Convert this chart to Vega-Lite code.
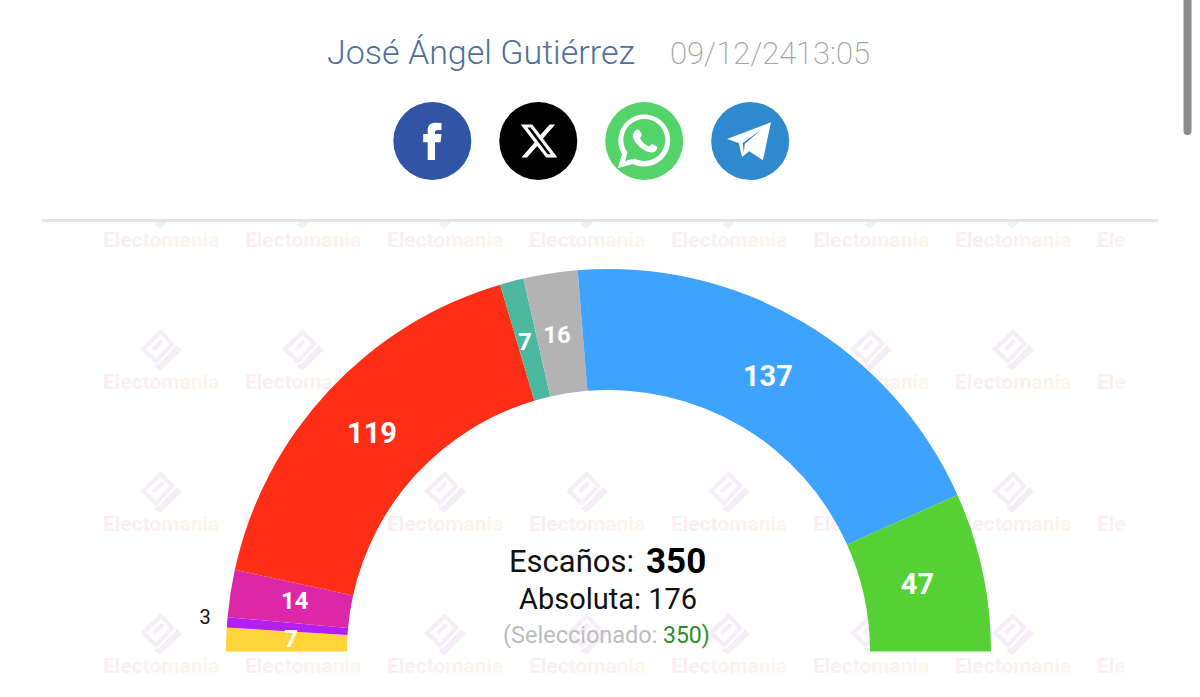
{
"$schema":"https://vega.github.io/schema/vega-lite/v6.json",
"width":1200,"height":697,"padding":0,"autosize":{"type":"none"},
"background":"#ffffff",
"config":{"view":{"stroke":null},"font":"Roboto"},
"datasets":{
"seats":[
{"party":"Partido 1","seats":7,"order":1},
{"party":"Partido 2","seats":3,"order":2},
{"party":"Partido 3","seats":14,"order":3},
{"party":"Partido 4","seats":119,"order":4},
{"party":"Partido 5","seats":7,"order":5},
{"party":"Partido 6","seats":16,"order":6},
{"party":"Partido 7","seats":137,"order":7},
{"party":"Partido 8","seats":47,"order":8}],
"wordmarks":[
{"col":0,"row":0,"word":"Electomania"},{"col":1,"row":0,"word":"Electomania"},{"col":2,"row":0,"word":"Electomania"},{"col":3,"row":0,"word":"Electomania"},{"col":4,"row":0,"word":"Electomania"},{"col":5,"row":0,"word":"Electomania"},{"col":6,"row":0,"word":"Electomania"},{"col":7,"row":0,"word":"Ele"},
{"col":0,"row":1,"word":"Electomania"},{"col":1,"row":1,"word":"Electomania"},{"col":2,"row":1,"word":"Electomania"},{"col":3,"row":1,"word":"Electomania"},{"col":4,"row":1,"word":"Electomania"},{"col":5,"row":1,"word":"Electomania"},{"col":6,"row":1,"word":"Electomania"},{"col":7,"row":1,"word":"Ele"},
{"col":0,"row":2,"word":"Electomania"},{"col":1,"row":2,"word":"Electomania"},{"col":2,"row":2,"word":"Electomania"},{"col":3,"row":2,"word":"Electomania"},{"col":4,"row":2,"word":"Electomania"},{"col":5,"row":2,"word":"Electomania"},{"col":6,"row":2,"word":"Electomania"},{"col":7,"row":2,"word":"Ele"},
{"col":0,"row":3,"word":"Electomania"},{"col":1,"row":3,"word":"Electomania"},{"col":2,"row":3,"word":"Electomania"},{"col":3,"row":3,"word":"Electomania"},{"col":4,"row":3,"word":"Electomania"},{"col":5,"row":3,"word":"Electomania"},{"col":6,"row":3,"word":"Electomania"},{"col":7,"row":3,"word":"Ele"}],
"logos":[
{"col":0,"row":0},{"col":1,"row":0},{"col":2,"row":0},{"col":3,"row":0},{"col":4,"row":0},{"col":5,"row":0},{"col":6,"row":0},
{"col":0,"row":1},{"col":1,"row":1},{"col":2,"row":1},{"col":3,"row":1},{"col":4,"row":1},{"col":5,"row":1},{"col":6,"row":1},
{"col":0,"row":2},{"col":1,"row":2},{"col":2,"row":2},{"col":3,"row":2},{"col":4,"row":2},{"col":5,"row":2},{"col":6,"row":2},
{"col":0,"row":3},{"col":1,"row":3},{"col":2,"row":3},{"col":3,"row":3},{"col":4,"row":3},{"col":5,"row":3},{"col":6,"row":3}],
"icons":[{"net":"Facebook","pos":0},{"net":"X","pos":1},{"net":"WhatsApp","pos":2},{"net":"Telegram","pos":3}]
},
"resolve":{"scale":{"x":"independent","y":"independent","color":"independent","theta":"independent"}},
"layer":[
{"data":{"name":"wordmarks"},
 "mark":{"type":"text","align":"left","baseline":"middle","font":"Roboto","fontWeight":700,"fontSize":21,"fill":{"gradient":"linear","x1":0,"y1":0,"x2":1,"y2":0,"stops":[{"offset":0,"color":"#fbedf3"},{"offset":0.6,"color":"#fcf0f0"},{"offset":1,"color":"#fef5ea"}]}},
 "encoding":{
  "x":{"field":"col","type":"quantitative","scale":{"domain":[-0.7254,7.7254],"range":[0,1200]},"axis":null},
  "y":{"field":"row","type":"quantitative","scale":{"domain":[-1.6972,3.2113],"range":[0,697]},"axis":null},
  "text":{"field":"word"}}},
{"data":{"name":"logos"},
 "mark":{"type":"point","filled":true,"opacity":1,"size":4,"color":"#f5edf7","shape":"M0 -21 L14 -6 L-5 14 L-21 -1 Z M0 -15 L-15 -1 L-5 8.5 L8.5 -6 Z M0 -11 L3 -8 L-6 1 L-9 -2 Z M-1 13 L16 -5 L21 0 L-1 21 L-7 16 Z"},
 "encoding":{
  "x":{"field":"col","type":"quantitative","scale":{"domain":[-1.1338,7.3169],"range":[0,1200]},"axis":null},
  "y":{"field":"row","type":"quantitative","scale":{"domain":[-1.4648,3.4437],"range":[0,697]},"axis":null}}},
{"mark":{"type":"rect","color":"#ffffff"},"data":{"values":[{}]},
 "encoding":{
  "x":{"datum":0,"type":"quantitative","scale":{"domain":[0,1200]},"axis":null},"x2":{"datum":1200},
  "y":{"datum":0,"type":"quantitative","scale":{"domain":[0,697],"range":[0,697]},"axis":null},"y2":{"datum":220}}},
{"mark":{"type":"rule","color":"#e6e4e4","strokeWidth":3},"data":{"values":[{}]},
 "encoding":{
  "x":{"datum":42,"type":"quantitative","scale":{"domain":[0,1200]},"axis":null},"x2":{"datum":1158},
  "y":{"datum":220.5,"type":"quantitative","scale":{"domain":[0,697],"range":[0,697]},"axis":null}}},
{"mark":{"type":"rule","color":"#8a8a8a","strokeWidth":8,"strokeCap":"round"},"data":{"values":[{}]},
 "encoding":{
  "x":{"datum":1187.5,"type":"quantitative","scale":{"domain":[0,1200]},"axis":null},
  "y":{"datum":0,"type":"quantitative","scale":{"domain":[0,697],"range":[0,697]},"axis":null},"y2":{"datum":131}}},
{"mark":{"type":"text","text":"José Ángel Gutiérrez","align":"left","baseline":"alphabetic","font":"Roboto","fontWeight":300,"fontSize":34,"color":"#4f7199"},"data":{"values":[{}]},
 "encoding":{
  "x":{"datum":327,"type":"quantitative","scale":{"domain":[0,1200]},"axis":null},
  "y":{"datum":64,"type":"quantitative","scale":{"domain":[0,697],"range":[0,697]},"axis":null}}},
{"mark":{"type":"text","text":"09/12/24","align":"left","baseline":"alphabetic","font":"Roboto","fontWeight":200,"fontSize":31,"color":"#a3a3a3"},"data":{"values":[{}]},
 "encoding":{
  "x":{"datum":670,"type":"quantitative","scale":{"domain":[0,1200]},"axis":null},
  "y":{"datum":64,"type":"quantitative","scale":{"domain":[0,697],"range":[0,697]},"axis":null}}},
{"mark":{"type":"text","text":"13:05","align":"left","baseline":"alphabetic","font":"Roboto","fontWeight":200,"fontSize":31,"color":"#a3a3a3"},"data":{"values":[{}]},
 "encoding":{
  "x":{"datum":796,"type":"quantitative","scale":{"domain":[0,1200]},"axis":null},
  "y":{"datum":64,"type":"quantitative","scale":{"domain":[0,697],"range":[0,697]},"axis":null}}},
{"data":{"name":"icons"},
 "mark":{"type":"point","filled":true,"opacity":1,"size":6084,"shape":"circle"},
 "encoding":{
  "x":{"field":"pos","type":"quantitative","scale":{"domain":[-4.0802,7.2453],"range":[0,1200]},"axis":null},
  "y":{"datum":141,"type":"quantitative","scale":{"domain":[0,697],"range":[0,697]},"axis":null},
  "color":{"field":"net","type":"nominal","scale":{"domain":["Facebook","X","WhatsApp","Telegram"],"range":["#3155a4","#000000","#55d36b","#2f89ce"]},"legend":null}}},
{"mark":{"type":"point","filled":true,"opacity":1,"size":4,"color":"#ffffff","shape":"M-4.8 19 L-4.8 1.3 L-9.3 1.3 L-9.3 -7 L-4.8 -7 L-4.8 -11 C-4.8 -16 -1.5 -18.3 3 -18.3 L9 -18 L9 -11 L5 -11 C3.2 -11 2.5 -10 2.5 -8.5 L2.5 -7 L9 -7 L8 1.3 L2.5 1.3 L2.5 19 Z"},"data":{"values":[{}]},
 "encoding":{
  "x":{"datum":432.5,"type":"quantitative","scale":{"domain":[0,1200]},"axis":null},
  "y":{"datum":141,"type":"quantitative","scale":{"domain":[0,697],"range":[0,697]},"axis":null}}},
{"mark":{"type":"point","filled":true,"opacity":1,"size":11.56,"color":"#ffffff","shape":"M6.244 -9.75 L9.552 -9.75 L2.325 -1.49 L10.827 9.75 L4.17 9.75 L-1.044 2.933 L-7.01 9.75 L-10.32 9.75 L-2.59 0.915 L-10.746 -9.75 L-3.92 -9.75 L0.793 -3.519 Z M5.083 7.77 L6.916 7.77 L-4.916 -7.874 L-6.883 -7.874 Z"},"data":{"values":[{}]},
 "encoding":{
  "x":{"datum":539,"type":"quantitative","scale":{"domain":[0,1200]},"axis":null},
  "y":{"datum":141,"type":"quantitative","scale":{"domain":[0,697],"range":[0,697]},"axis":null}}},
{"mark":{"type":"point","filled":true,"opacity":1,"size":4,"color":"#ffffff","shape":"M-27 27 L-23 13 A26 26 0 1 1 -12 23 Z M-20 20 L-10.5 17.5 A21 21 0 1 0 -17.5 11.5 Z M-11 -9 C-9 -12 -7 -12 -5.5 -11 L-3 -6 L-5 -3 C-3 1 0 4 4 5.5 L7 3 L12 5.5 C13 8 11 11 7 11.5 C-2 11.5 -13 0 -12 -6 Z"},"data":{"values":[{}]},
 "encoding":{
  "x":{"datum":645,"type":"quantitative","scale":{"domain":[0,1200]},"axis":null},
  "y":{"datum":141,"type":"quantitative","scale":{"domain":[0,697],"range":[0,697]},"axis":null}}},
{"mark":{"type":"point","filled":true,"opacity":1,"size":4,"color":"#ffffff","shape":"M20 -18.7 L11.9 19.3 L-1.7 10.3 L-9 16 L-12.3 2 L-24 -2 Z M11 -12 L-8.3 2 L-7.3 12 L-6.3 3 Z"},"data":{"values":[{}]},
 "encoding":{
  "x":{"datum":751,"type":"quantitative","scale":{"domain":[0,1200]},"axis":null},
  "y":{"datum":141,"type":"quantitative","scale":{"domain":[0,697],"range":[0,697]},"axis":null}}},
{"data":{"name":"seats"},
 "mark":{"type":"arc","radius":382.5,"radius2":261.5},
 "encoding":{
  "x":{"datum":608.5,"type":"quantitative","scale":{"domain":[0,1200]},"axis":null},
  "y":{"datum":651.5,"type":"quantitative","scale":{"domain":[0,697],"range":[0,697]},"axis":null},
  "theta":{"field":"seats","type":"quantitative","stack":true,"scale":{"domain":[0,350],"range":[-1.5708,1.5708]}},
  "order":{"field":"order"},
  "color":{"field":"party","type":"nominal","scale":{"domain":["Partido 1","Partido 2","Partido 3","Partido 4","Partido 5","Partido 6","Partido 7","Partido 8"],"range":["#ffd43b","#b31ff0","#dc28a8","#ff2e17","#4db8a0","#b3b3b3","#3ea2ff","#55d136"]},"legend":null}}},
{"data":{"name":"seats"},
 "mark":{"type":"text","radius":319,"font":"Roboto","fontWeight":700,"color":"#ffffff","align":"center","baseline":"middle"},
 "encoding":{
  "x":{"datum":605.5,"type":"quantitative","scale":{"domain":[0,1200]},"axis":null},
  "y":{"datum":651.5,"type":"quantitative","scale":{"domain":[0,697],"range":[0,697]},"axis":null},
  "theta":{"field":"seats","type":"quantitative","stack":true,"scale":{"domain":[0,350],"range":[-1.5708,1.5708]}},
  "order":{"field":"order"},
  "size":{"condition":{"test":"datum.seats>=47","value":29},"value":24},
  "text":{"condition":{"test":"datum.order<=3","value":""},"field":"seats","type":"quantitative"}}},
{"data":{"name":"seats"},
 "mark":{"type":"text","radius":319,"font":"Roboto","fontWeight":700,"fontSize":24,"color":"#ffffff","align":"center","baseline":"middle"},
 "encoding":{
  "x":{"datum":610,"type":"quantitative","scale":{"domain":[0,1200]},"axis":null},
  "y":{"datum":650,"type":"quantitative","scale":{"domain":[0,697],"range":[0,697]},"axis":null},
  "theta":{"field":"seats","type":"quantitative","stack":true,"scale":{"domain":[0,350],"range":[-1.5708,1.5708]}},
  "order":{"field":"order"},
  "text":{"condition":{"test":"datum.order==2||datum.order>3","value":""},"field":"seats","type":"quantitative"}}},
{"data":{"name":"seats"},
 "mark":{"type":"text","radius":405,"font":"Roboto","fontSize":20,"color":"#111111","align":"center","baseline":"middle"},
 "encoding":{
  "x":{"datum":609,"type":"quantitative","scale":{"domain":[0,1200]},"axis":null},
  "y":{"datum":649,"type":"quantitative","scale":{"domain":[0,697],"range":[0,697]},"axis":null},
  "theta":{"field":"seats","type":"quantitative","stack":true,"scale":{"domain":[0,350],"range":[-1.5708,1.5708]}},
  "order":{"field":"order"},
  "text":{"condition":{"test":"datum.seats!=3","value":""},"field":"seats","type":"quantitative"}}},
{"mark":{"type":"text","text":"Escaños:","align":"left","baseline":"alphabetic","font":"Roboto","fontSize":31,"color":"#111111"},"data":{"values":[{}]},
 "encoding":{
  "x":{"datum":509,"type":"quantitative","scale":{"domain":[0,1200]},"axis":null},
  "y":{"datum":572,"type":"quantitative","scale":{"domain":[0,697],"range":[0,697]},"axis":null}}},
{"mark":{"type":"text","text":"350","align":"left","baseline":"alphabetic","font":"Roboto","fontWeight":700,"fontSize":35,"color":"#000000"},"data":{"values":[{}]},
 "encoding":{
  "x":{"datum":646,"type":"quantitative","scale":{"domain":[0,1200]},"axis":null},
  "y":{"datum":573,"type":"quantitative","scale":{"domain":[0,697],"range":[0,697]},"axis":null}}},
{"mark":{"type":"text","text":"Absoluta: 176","align":"left","baseline":"alphabetic","font":"Roboto","fontSize":29,"color":"#111111"},"data":{"values":[{}]},
 "encoding":{
  "x":{"datum":519,"type":"quantitative","scale":{"domain":[0,1200]},"axis":null},
  "y":{"datum":609,"type":"quantitative","scale":{"domain":[0,697],"range":[0,697]},"axis":null}}},
{"mark":{"type":"text","text":"(Seleccionado:","align":"left","baseline":"alphabetic","font":"Roboto","fontSize":23.5,"color":"#bdbdbd"},"data":{"values":[{}]},
 "encoding":{
  "x":{"datum":503,"type":"quantitative","scale":{"domain":[0,1200]},"axis":null},
  "y":{"datum":643,"type":"quantitative","scale":{"domain":[0,697],"range":[0,697]},"axis":null}}},
{"mark":{"type":"text","text":"350)","align":"left","baseline":"alphabetic","font":"Roboto","fontSize":23,"color":"#2a8f2a"},"data":{"values":[{}]},
 "encoding":{
  "x":{"datum":663,"type":"quantitative","scale":{"domain":[0,1200]},"axis":null},
  "y":{"datum":643,"type":"quantitative","scale":{"domain":[0,697],"range":[0,697]},"axis":null}}}
]
}
